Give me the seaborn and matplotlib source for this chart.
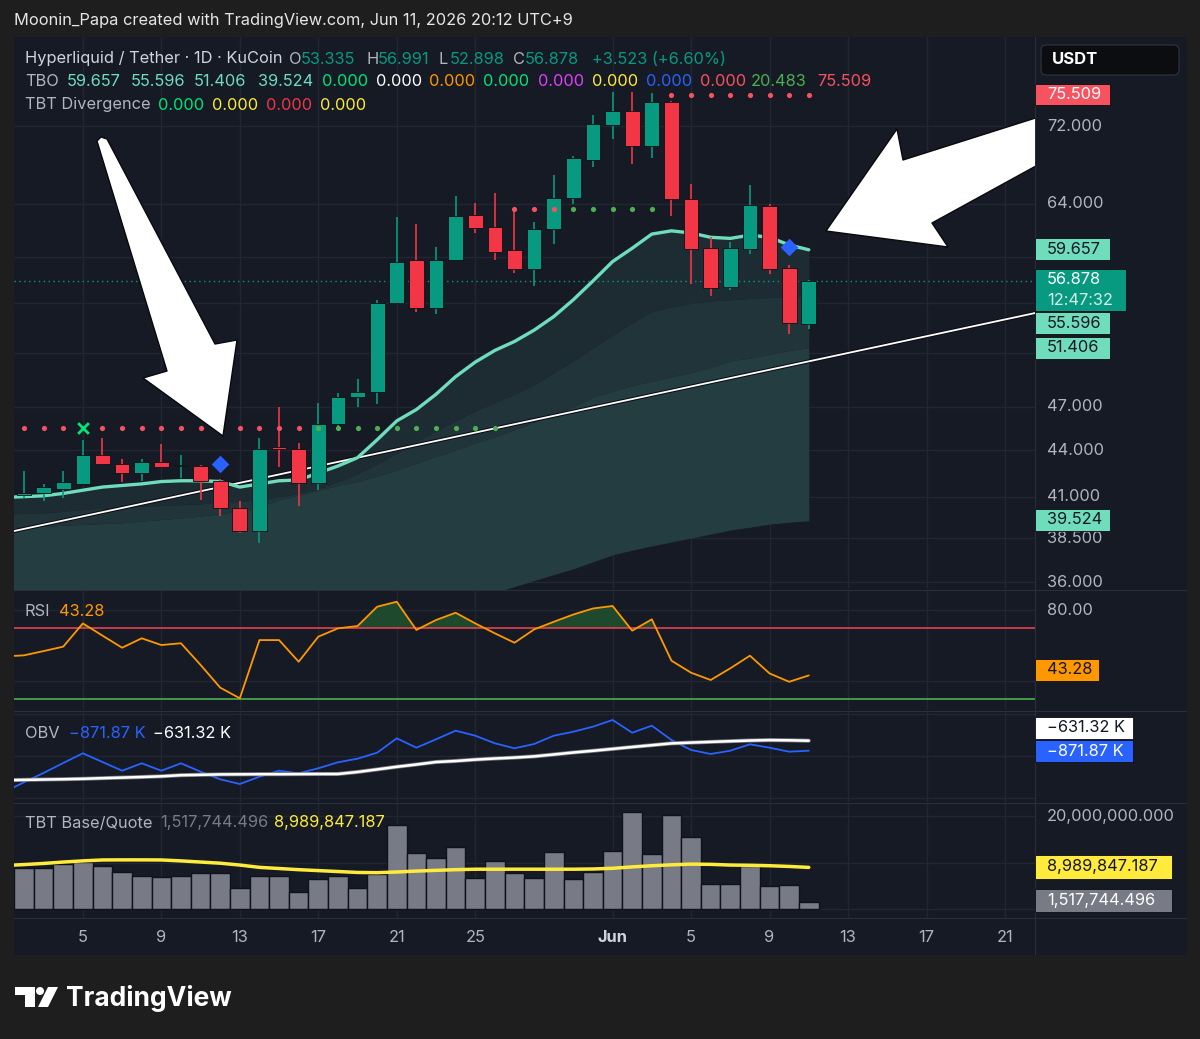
import numpy as np
import pandas as pd
import matplotlib
matplotlib.use("Agg")
import matplotlib.pyplot as plt
import matplotlib.dates as mdates
import matplotlib.transforms as mtransforms
import matplotlib.patheffects as pe
from matplotlib.patches import Polygon, Rectangle, FancyBboxPatch, Circle
import seaborn as sns

# --- data ---
candle_dates = pd.date_range("2026-05-02", "2026-06-11", freq="D")
line_dates = pd.date_range("2026-05-01", "2026-06-11", freq="D")

opens = [41.1, 41.2, 41.5, 41.8, 43.7, 43.1, 42.5, 43.2, 42.95, 42.95,
         42.0, 40.3, 38.9, 44.2, 44.1, 41.85, 45.8, 47.7, 48.1, 55.0,
         58.7, 54.6, 58.7, 62.9, 61.8, 59.6, 57.9, 61.6, 64.5, 68.4,
         72.1, 73.7, 69.8, 74.7, 64.4, 59.8, 56.4, 59.7, 63.8, 58.0, 53.335]
highs = [42.6, 41.8, 42.6, 44.7, 44.8, 43.4, 43.4, 44.4, 43.7, 43.0,
         42.1, 40.7, 44.8, 47.0, 44.5, 47.3, 48.0, 49.0, 55.3, 62.7,
         62.0, 59.9, 64.7, 64.1, 65.0, 63.5, 62.2, 66.8, 68.8, 73.2,
         75.8, 75.8, 75.7, 74.8, 65.9, 60.8, 60.4, 65.8, 64.0, 58.3, 56.991]
lows = [40.9, 40.7, 40.9, 41.8, 43.0, 41.9, 42.0, 42.85, 42.2, 40.8,
        39.8, 38.8, 38.2, 42.9, 40.4, 41.4, 45.4, 47.0, 47.2, 54.9,
        54.3, 54.1, 58.7, 61.2, 58.7, 57.6, 56.5, 60.2, 64.0, 67.7,
        70.6, 68.0, 68.6, 62.8, 56.6, 55.6, 56.1, 59.3, 57.5, 52.5, 52.898]
closes = [41.2, 41.6, 41.9, 43.7, 43.1, 42.5, 43.2, 42.9, 43.0, 42.0,
          40.3, 38.9, 44.1, 44.1, 41.85, 45.8, 47.7, 48.1, 55.0, 58.6,
          54.6, 58.7, 62.8, 61.7, 59.5, 57.9, 61.6, 64.5, 68.6, 72.2,
          73.7, 69.8, 74.7, 64.4, 59.7, 56.3, 59.8, 63.9, 57.9, 53.355, 56.878]

# TBO bands (May 1 .. Jun 11)
tbo_fast = [40.95, 41.0, 41.05, 41.2, 41.4, 41.6, 41.7, 41.8, 41.95, 42.0, 42.0,
            41.95, 41.6, 41.8, 42.0, 42.05, 42.5, 42.95, 43.5, 44.7, 46.0,
            46.8, 47.9, 49.2, 50.3, 51.2, 51.9, 52.8, 53.9, 55.3, 56.9,
            58.6, 59.8, 61.1, 61.4, 61.2, 60.8, 60.7, 61.0, 60.8, 60.1, 59.657]
tbo_mid = [39.9, 39.98, 40.0, 40.1, 40.2, 40.3, 40.35, 40.4, 40.45, 40.5, 40.55,
           40.65, 40.7, 40.8, 41.0, 41.2, 41.5, 41.95, 42.45, 43.1, 43.8,
           44.6, 45.3, 46.0, 46.7, 47.3, 47.9, 48.6, 49.5, 50.4, 51.4,
           52.4, 53.4, 54.3, 54.7, 55.0, 55.2, 55.3, 55.4, 55.5, 55.55, 55.596]
tbo_low = [39.1, 39.15, 39.2, 39.25, 39.3, 39.35, 39.4, 39.5, 39.6, 39.7, 39.8,
           39.95, 40.1, 40.35, 40.8, 41.1, 41.4, 41.7, 41.95, 42.3, 42.7,
           43.15, 43.6, 44.0, 44.5, 44.9, 45.4, 45.9, 46.5, 47.0, 47.7,
           48.1, 48.55, 48.85, 49.2, 49.5, 49.9, 50.4, 50.6, 50.9, 51.2, 51.406]
tbo_base = [31.4, 31.5, 31.6, 31.75, 31.9, 32.0, 32.15, 32.3, 32.45, 32.6, 32.75,
            32.9, 33.05, 33.2, 33.35, 33.5, 33.65, 33.8, 33.95, 34.1, 34.25,
            34.37, 34.48, 34.8, 35.12, 35.44, 35.76, 36.09, 36.42, 36.74, 37.13,
            37.53, 37.8, 38.04, 38.27, 38.5, 38.73, 38.97, 39.14, 39.32, 39.44, 39.524]

# TBO signal dots per candle day: r = red dot, g = green dot, x = green cross
signal_level = [45.5] * 25 + [63.5] * 8 + [75.5] * 8
signal_kind = "rrr" + "x" + "rrrrrrrrrrr" + "gggggggggg" + "rrr" + "ggggg" + "rrrrrrrr"
diamond_dates = ["2026-05-12", "2026-06-10"]
diamond_prices = [43.1, 59.9]

trend_dates = ["2026-05-01 11:45", "2026-06-22 12:45"]
trend_prices = [38.91, 54.19]

rsi = [54.0, 54.6, 57.0, 59.5, 72.6, 65.7, 58.9, 64.2, 60.4, 61.4, 49.2,
       36.4, 30.4, 63.2, 63.2, 51.0, 65.1, 69.8, 71.1, 82.0, 84.8,
       68.9, 74.5, 78.6, 72.6, 67.0, 61.7, 69.2, 73.5, 77.6, 81.0,
       82.4, 68.5, 74.9, 51.6, 44.8, 40.7, 47.3, 54.4, 44.4, 39.7, 43.28]

obv_k = [-1863, -1632, -1406, -1168, -934, -1144, -1353, -1175, -1353, -1175, -1377,
         -1560, -1673, -1497, -1353, -1416, -1295, -1151, -1064, -920, -574,
         -800, -598, -391, -511, -694, -814, -711, -511, -415, -294,
         -133, -439, -270, -614, -855, -951, -872, -718, -800, -896, -871.87]
obv_ma_k = [-1582, -1574, -1565, -1558, -1548, -1533, -1519, -1505, -1488, -1461, -1452,
            -1442, -1440, -1437, -1437, -1435, -1432, -1432, -1384, -1322, -1259,
            -1204, -1144, -1120, -1086, -1060, -1038, -1009, -963, -915, -874,
            -829, -783, -740, -696, -677, -660, -643, -627, -617, -622, -631.32]

volume_m = [8.8, 8.8, 9.7, 10.2, 9.3, 7.9, 7.1, 7.0, 7.2, 7.7,
            7.7, 4.5, 7.1, 7.1, 3.7, 6.4, 7.1, 4.6, 7.6, 18.2,
            12.0, 11.0, 13.4, 6.8, 10.3, 7.8, 6.8, 12.4, 6.5, 8.1,
            12.6, 20.9, 11.9, 20.3, 15.6, 5.3, 5.3, 9.2, 5.0, 5.2, 1.52]
volume_ma_m = [9.4, 9.6, 9.85, 10.15, 10.4, 10.6, 10.62, 10.62, 10.6, 10.4, 10.15,
               9.9, 9.5, 9.0, 8.75, 8.5, 8.3, 8.1, 7.9, 7.85, 8.0,
               8.2, 8.35, 8.5, 8.6, 8.6, 8.6, 8.6, 8.6, 8.6, 8.65,
               8.8, 9.1, 9.35, 9.55, 9.7, 9.65, 9.5, 9.45, 9.35, 9.2, 8.99]

price_grid = [36, 38.5, 41, 44, 47, 51, 55, 59, 64, 72]
price_labels = [36, 38.5, 41, 44, 47, 64, 72]   # the rest sit under the value badges
tick_dates = ["2026-05-05", "2026-05-09", "2026-05-13", "2026-05-17", "2026-05-21",
              "2026-05-25", "2026-06-01", "2026-06-05", "2026-06-09", "2026-06-13",
              "2026-06-17", "2026-06-21"]
tick_labels = ["5", "9", "13", "17", "21", "25", "Jun", "5", "9", "13", "17", "21"]

# --- style ---
W, H = 1200, 1039
BG = "#161a25"
OUTER = "#1e1e1e"
GRID = "#222633"
TXT = "#b2b5be"
UP = "#089981"
DOWN = "#f23645"
TEAL = "#6fdcbc"
FS = 11.8

sns.set_theme(style="dark", rc={"axes.facecolor": BG, "figure.facecolor": OUTER,
                                "axes.edgecolor": BG, "grid.color": GRID})
plt.rcParams["font.family"] = ["Inter", "DejaVu Sans"]

fig = plt.figure(figsize=(W / 100, H / 100), dpi=100)
PX = mtransforms.Affine2D().scale(1 / W, -1 / H).translate(0, 1) + fig.transFigure


def px_rect(x0, y0, x1, y1):
    return [x0 / W, 1 - y1 / H, (x1 - x0) / W, (y1 - y0) / H]


def ftext(x, y, s, color=TXT, size=FS, **kw):
    fig.text(x / W, 1 - y / H, s, color=color, fontsize=size, va="center", ha="left", **kw)


def badge(x0, y0, x1, y1, lines, bg, fgs, size=FS):
    fig.add_artist(Rectangle((x0, y0), x1 - x0, y1 - y0, transform=PX, facecolor=bg,
                             edgecolor="#0c0e14", lw=0.6, zorder=5))
    n = len(lines)
    for i, s in enumerate(lines):
        yc = y0 + (y1 - y0) * (i + 0.5) / n
        fig.text((x0 + 12) / W, 1 - yc / H, s, color=fgs[i], fontsize=size,
                 va="center", ha="left", zorder=6)


# chart frame
fig.add_artist(Rectangle((14, 37), 1173, 918, transform=PX, facecolor=BG, edgecolor="none", zorder=-1))

ax_p = fig.add_axes(px_rect(14, 37, 1035, 589))
ax_r = fig.add_axes(px_rect(14, 591, 1035, 710), sharex=ax_p)
ax_o = fig.add_axes(px_rect(14, 712, 1035, 802), sharex=ax_p)
ax_v = fig.add_axes(px_rect(14, 804, 1035, 918), sharex=ax_p)

cx = mdates.date2num(candle_dates)
lx = mdates.date2num(line_dates)
tx = mdates.date2num(pd.to_datetime(tick_dates))

for a in (ax_p, ax_r, ax_o, ax_v):
    a.set_facecolor(BG)
    for s in a.spines.values():
        s.set_visible(False)
    a.set_xticks(tx)
    a.tick_params(labelbottom=False, labelleft=False, length=0)
    a.grid(True, color=GRID, lw=1)
ax_p.set_xlim(cx[0] - 0.51, cx[0] + 51.53)

# --- price pane ---
ax_p.set_yscale("log")
ax_p.set_ylim(35.63, 82.43)
ax_p.set_yticks(price_grid)
ax_p.yaxis.set_minor_locator(matplotlib.ticker.NullLocator())
ax_p.tick_params(labelleft=False, length=0, which="both")

fast = np.array(tbo_fast)
ax_p.fill_between(lx, tbo_low, tbo_base, color="#243d41", lw=0, zorder=1)
ax_p.fill_between(lx, tbo_mid, tbo_low, color="#20343a", lw=0, zorder=1)
ax_p.fill_between(lx, fast, tbo_mid, color="#1d2c32", lw=0, zorder=1)

ax_p.axhline(closes[-1], color=UP, ls=(0, (1, 2.5)), lw=1, zorder=2)
sns.lineplot(x=mdates.date2num(pd.to_datetime(trend_dates)), y=trend_prices, ax=ax_p,
             color="white", lw=1.3, zorder=3,
             path_effects=[pe.Stroke(linewidth=2.8, foreground="#0b0d12"), pe.Normal()])
sns.lineplot(x=lx, y=fast, ax=ax_p, color=TEAL, lw=2.4, zorder=4)

o, c = np.array(opens), np.array(closes)
col = np.where(c >= o, UP, DOWN)
ax_p.vlines(cx, lows, highs, colors=col, lw=1.2, zorder=5)
ax_p.bar(cx, np.maximum(np.abs(c - o), 0.06), bottom=np.minimum(o, c), width=0.75,
         color=col, edgecolor="#0c0e14", lw=0.6, zorder=6)

kinds = np.array(list(signal_kind))
lev = np.array(signal_level)
ax_p.scatter(cx[kinds == "r"], lev[kinds == "r"], s=14, color="#f7525f", zorder=7, lw=0)
ax_p.scatter(cx[kinds == "g"], lev[kinds == "g"], s=14, color="#4caf50", zorder=7, lw=0)
ax_p.scatter(cx[kinds == "x"], lev[kinds == "x"], s=60, marker="x", color="#00e676", lw=2, zorder=7)
ax_p.scatter(mdates.date2num(pd.to_datetime(diamond_dates)), diamond_prices, s=80, marker="D",
             color="#2962ff", zorder=8, lw=0)

# drawn arrows
arrow1 = [(97, 141), (101, 137), (107, 139), (215, 344), (237, 340), (223, 436), (143, 378), (167, 371)]
arrow2 = [(1045, 115), (903, 160), (897, 129), (826, 231), (948, 247), (932, 223), (1045, 161)]
for verts in (arrow1, arrow2):
    ax_p.add_patch(Polygon(verts, closed=True, transform=PX, facecolor="white",
                           edgecolor="#08090c", lw=1, joinstyle="round", zorder=10))

blend_p = mtransforms.blended_transform_factory(ax_p.transAxes, ax_p.transData)
for t in price_labels:
    ax_p.text(1.0117, t, f"{t:.3f}", transform=blend_p, color=TXT, fontsize=FS,
              va="center", ha="left", clip_on=False)

# --- RSI pane ---
r = np.array(rsi)
ax_r.set_ylim(23.8, 90.85)
ax_r.set_yticks([40, 80])
ax_r.fill_between(lx, r, 70, where=r > 70, interpolate=True, color="#1f4f2e", alpha=0.9, lw=0)
ax_r.axhline(70, color="#e0434f", lw=1.2)
ax_r.axhline(30, color="#4caf50", lw=1.2)
sns.lineplot(x=lx, y=r, ax=ax_r, color="#ff9800", lw=1.3)
blend_r = mtransforms.blended_transform_factory(ax_r.transAxes, ax_r.transData)
ax_r.text(1.0117, 80, "80.00", transform=blend_r, color=TXT, fontsize=FS,
          va="center", ha="left", clip_on=False)

# --- OBV pane ---
ax_o.set_ylim(-2106, 59)
ax_o.set_yticks([-2000, -1000, 0])
sns.lineplot(x=lx, y=obv_k, ax=ax_o, color="#2962ff", lw=1.3)
sns.lineplot(x=lx, y=obv_ma_k, ax=ax_o, color="white", lw=1.8,
             path_effects=[pe.Stroke(linewidth=2.9, foreground="#777a80"), pe.Normal()])

# --- volume pane ---
ax_v.set_ylim(-1.95, 22.7)
ax_v.set_yticks([0, 10, 20])
ax_v.bar(cx, volume_m, width=1.0, color="#787b86", edgecolor="#0f121a", lw=1.0, zorder=2)
sns.lineplot(x=lx, y=volume_ma_m, ax=ax_v, color="#ffeb3b", lw=2.5, zorder=3)
blend_v = mtransforms.blended_transform_factory(ax_v.transAxes, ax_v.transData)
ax_v.text(1.0117, 20, "20,000,000.000", transform=blend_v, color=TXT, fontsize=FS,
          va="center", ha="left", clip_on=False)

# x labels
blend_x = mtransforms.blended_transform_factory(ax_v.transData, ax_v.transAxes)
for t, lbl in zip(tx, tick_labels):
    ax_v.text(t, -0.175, lbl, transform=blend_x, color="#d1d4dc" if lbl == "Jun" else TXT,
              fontsize=FS, fontweight="bold" if lbl == "Jun" else "normal",
              ha="center", va="center", clip_on=False)

# pane separators
for yy in (590, 711, 803, 918):
    fig.add_artist(Rectangle((14, yy - 0.5), 1173, 1, transform=PX, facecolor="#2a2e39", lw=0, zorder=4))
fig.add_artist(Rectangle((1034.5, 37), 1, 918, transform=PX, facecolor="#2a2e39", lw=0, zorder=4))

# --- legends ---
ftext(14, 20, "Moonin_Papa created with TradingView.com, Jun 11, 2026 20:12 UTC+9", color="#e6e6e6", size=11.8)

ftext(25, 59, "Hyperliquid / Tether · 1D · KuCoin", color="#d1d4dc")
for s, x, cc in [("O", 289, TXT), ("53.335", 301, UP), ("H", 366, TXT), ("56.991", 378, UP),
                 ("L", 439, TXT), ("52.898", 450, UP), ("C", 513, TXT), ("56.878", 525, UP),
                 ("+3.523 (+6.60%)", 592, UP)]:
    ftext(x, 59, s, color=cc)

ftext(25, 82, "TBO", color=TXT)
for s, x, cc in [("59.657", 67, TEAL), ("55.596", 131, TEAL), ("51.406", 194, TEAL),
                 ("39.524", 258, TEAL), ("0.000", 322, "#00e676"), ("0.000", 376, "white"),
                 ("0.000", 429, "#ff9800"), ("0.000", 483, "#00e676"), ("0.000", 538, "#e040fb"),
                 ("0.000", 592, "#ffeb3b"), ("0.000", 646, "#2962ff"), ("0.000", 700, "#f7525f"),
                 ("20.483", 751, "#4caf50"), ("75.509", 817, "#f7525f")]:
    ftext(x, 82, s, color=cc)

ftext(25, 105, "TBT Divergence", color=TXT)
for s, x, cc in [("0.000", 158, "#00e676"), ("0.000", 212, "#ffeb3b"),
                 ("0.000", 266, "#f23645"), ("0.000", 320, "#ffeb3b")]:
    ftext(x, 105, s, color=cc)

ftext(25, 611, "RSI", color=TXT)
ftext(59, 611, "43.28", color="#ff9800")
ftext(25, 733, "OBV", color=TXT)
ftext(69, 733, "\u2212871.87 K", color="#2962ff")
ftext(153, 733, "\u2212631.32 K", color="white")
ftext(25, 823, "TBT Base/Quote", color=TXT)
ftext(160, 823, "1,517,744.496", color="#787b86")
ftext(274, 823, "8,989,847.187", color="#ffeb3b")

# --- axis badges ---
fig.add_artist(FancyBboxPatch((1041, 45), 138, 30, boxstyle="round,pad=0,rounding_size=5",
                              transform=PX, facecolor="#0c0d11", edgecolor="#2a2e39", lw=1, zorder=5))
ftext(1052, 60, "USDT", color="white", size=12, fontweight="bold", zorder=6)

DARK = "#131722"
badge(1035, 84, 1110, 105, ["75.509"], "#f7525f", ["white"])
badge(1035, 238, 1110, 260, ["59.657"], TEAL, [DARK])
badge(1035, 269, 1126, 311, ["56.878", "12:47:32"], UP, ["white", "#d3efe8"])
badge(1035, 312, 1110, 334, ["55.596"], TEAL, [DARK])
badge(1035, 337, 1110, 359, ["51.406"], TEAL, [DARK])
badge(1035, 509, 1110, 531, ["39.524"], TEAL, [DARK])
badge(1035, 659, 1099, 681, ["43.28"], "#ff9800", [DARK])
badge(1035, 717, 1133, 739, ["\u2212631.32 K"], "white", [DARK])
badge(1035, 740, 1133, 762, ["\u2212871.87 K"], "#2962ff", ["white"])
badge(1035, 855, 1172, 879, ["8,989,847.187"], "#ffeb3b", [DARK])
badge(1035, 889, 1172, 912, ["1,517,744.496"], "#787b86", ["white"])

# --- TradingView logo ---
fig.add_artist(Polygon([(15, 987), (35, 987), (35, 1007), (25, 1007), (25, 995), (15, 995)],
                       closed=True, transform=PX, facecolor="white", lw=0))
fig.add_artist(Circle((40, 991), 4, transform=PX, facecolor="white", lw=0))
fig.add_artist(Polygon([(48, 987), (58, 987), (48, 1007), (38, 1007)],
                       closed=True, transform=PX, facecolor="white", lw=0))
ftext(66, 998, "TradingView", color="white", size=19, fontweight="bold")

fig.savefig("out.png", dpi=100, facecolor=OUTER)
